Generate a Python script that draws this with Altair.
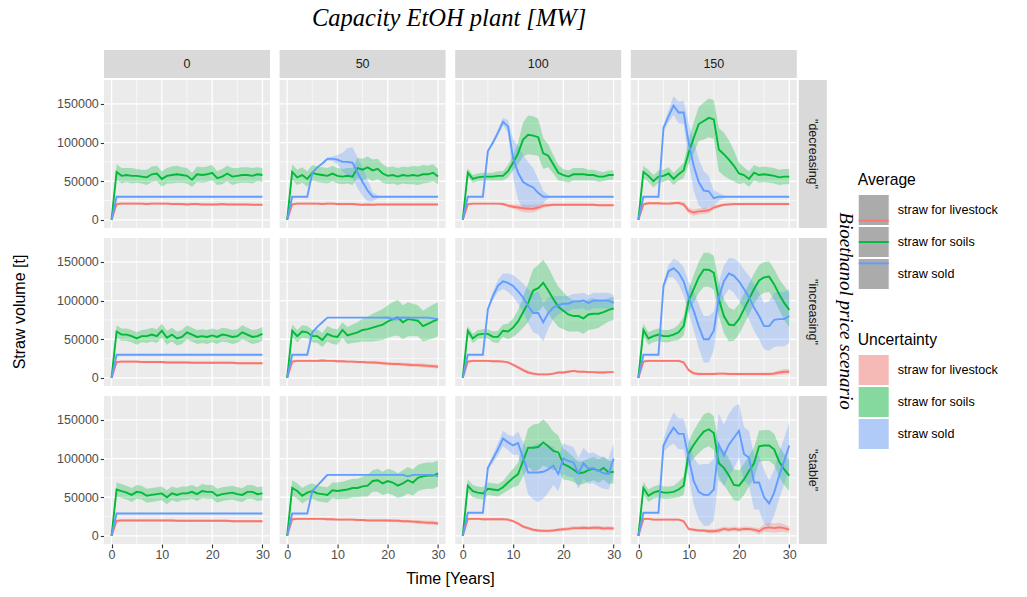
import altair as alt
import pandas as pd

# ---------------- data (values in thousand tonnes) ----------------
YEARS = list(range(31))
SCENARIOS = ['"decreasing"', '"increasing"', '"stable"']
CAPACITIES = ["0", "50", "100", "150"]
SERIES = ["straw for livestock", "straw for soils", "straw sold"]
COLORS = ["#F8766D", "#00BA38", "#619CFF"]
X_MAJOR = [0, 10, 20, 30]
X_MINOR = [5, 15, 25]
Y_MAJOR = [0, 50000, 100000, 150000]
Y_MINOR = [25000, 75000, 125000]

ZERO_SD = [0, 0, 0, 0, 0, 0, 0, 0, 0, 0, 0,
           0, 0, 0, 0, 0, 0, 0, 0, 0, 0,
           0, 0, 0, 0, 0, 0, 0, 0, 0, 0]
FLAT_SOLD = [0, 30, 30, 30, 30, 30, 30, 30, 30, 30, 30,
             30, 30, 30, 30, 30, 30, 30, 30, 30, 30,
             30, 30, 30, 30, 30, 30, 30, 30, 30, 30]
RED_SD = [0, 1.5, 1.5, 1.5, 1.5, 1.5, 1.5, 1.5, 1.5, 1.5, 1.5,
          1.5, 1.5, 1.5, 1.5, 1.5, 1.5, 1.5, 1.5, 1.5, 1.5,
          1.5, 1.5, 1.5, 1.5, 1.5, 1.5, 1.5, 1.5, 1.5, 1.5]

# "decreasing", 0 MW
DEC_0_LIVESTOCK = [0, 20.5, 21, 21, 21, 21, 21, 20.5, 21, 21, 21,
                   21, 20.5, 20.5, 20.5, 20, 20.5, 20.5, 20, 20, 20,
                   20, 20.5, 20, 20, 20, 20, 20, 19.5, 19.5, 19.5]
DEC_0_SOILS = [0, 62, 57, 58, 57, 57, 56, 55, 59, 60, 53,
               57, 58, 59, 58, 57, 52, 59, 58, 59, 61,
               54, 56, 60, 56, 57, 58, 58, 57, 59, 58]
DEC_0_SOILS_SD = [0, 10, 10, 9, 10, 9, 9, 10, 10, 10, 10,
                  10, 11, 11, 10, 10, 9, 10, 10, 10, 10,
                  9, 10, 10, 11, 10, 10, 10, 10, 9, 9]
# "decreasing", 50 MW
DEC_50_LIVESTOCK = [0, 20, 21, 21, 21, 21, 21, 20.5, 21, 21, 20.5,
                    20.5, 20.5, 20.5, 20, 19.5, 20, 19.5, 20, 20, 20,
                    20, 20, 20, 20, 20, 20, 20, 20, 20, 20]
DEC_50_SOILS = [0, 62, 55, 58, 53, 61, 59, 58, 57, 60, 57,
                56, 57, 56, 67, 65, 68, 64, 66, 60, 57,
                58, 56, 58, 57, 58, 57, 59, 59, 61, 56]
DEC_50_SOILS_SD = [0, 10, 10, 10, 10, 10, 10, 10, 10, 10, 10,
                   10, 10, 11, 13, 14, 14, 14, 13, 12, 11,
                   11, 11, 11, 11, 12, 12, 12, 11, 11, 10]
DEC_50_SOLD = [0, 30, 30, 30, 30, 61, 68, 73, 79, 79, 78,
               75, 75, 74, 61, 49, 38, 30, 30, 30, 30,
               30, 30, 30, 30, 30, 30, 30, 30, 30, 30]
DEC_50_SOLD_SD = [0, 0, 0, 0, 0, 1, 1, 1, 2, 3, 6,
                  12, 18, 20, 20, 18, 14, 6, 2, 0, 0,
                  0, 0, 0, 0, 0, 0, 0, 0, 0, 0]
# "decreasing", 100 MW
DEC_100_LIVESTOCK = [0, 20, 21, 21, 21, 21, 21, 21, 20.5, 18.5, 17,
                     16, 15, 14.5, 14.5, 16, 18.5, 19, 19.5, 19.5, 19.5,
                     19.5, 19.5, 19.5, 19.5, 19.5, 19.5, 19, 19, 19, 19]
DEC_100_LIVESTOCK_SD = [0, 1, 1, 1, 1, 1, 1, 1, 1.5, 2, 3,
                        4, 5, 5, 5, 4, 3, 2, 1.5, 1.5, 1.5,
                        1.5, 1.5, 1.5, 1.5, 1.5, 1.5, 1.5, 1.5, 1.5, 1.5]
DEC_100_SOILS = [0, 61, 53, 55, 56, 56, 56, 57, 57, 63, 74,
                 86, 104, 110, 109, 107, 86, 83, 72, 61, 58,
                 56, 59, 59, 59, 58, 58, 56, 56, 58, 58]
DEC_100_SOILS_SD = [0, 6, 5, 5, 5, 5, 5, 6, 6, 8, 10,
                    14, 22, 25, 25, 24, 20, 15, 12, 10, 8,
                    8, 8, 8, 8, 7, 7, 7, 6, 6, 6]
DEC_100_SOLD = [0, 30, 30, 30, 30, 89, 100, 113, 127, 121, 80,
                61, 49, 45, 42, 35, 30, 30, 30, 30, 30,
                30, 30, 30, 30, 30, 30, 30, 30, 30, 30]
DEC_100_SOLD_SD = [0, 0, 0, 0, 0, 2, 3, 4, 5, 8, 25,
                   35, 35, 30, 25, 18, 8, 2, 0, 0, 0,
                   0, 0, 0, 0, 0, 0, 0, 0, 0, 0]
# "decreasing", 150 MW
DEC_150_LIVESTOCK = [0, 20, 21.5, 21.5, 21.5, 21, 21, 21.5, 22, 20, 12,
                     9.5, 11, 11.5, 12.5, 16, 18, 19.5, 20, 20.5, 20.5,
                     20.5, 20.5, 20.5, 20.5, 20.5, 20.5, 20.5, 20.5, 20.5, 20.5]
DEC_150_LIVESTOCK_SD = [0, 1.5, 1.5, 1.5, 1.5, 1.5, 1.5, 1.5, 2, 3, 4,
                        4, 4, 4, 4, 3, 2, 1.5, 1.5, 1.5, 1.5,
                        1.5, 1.5, 1.5, 1.5, 1.5, 1.5, 1.5, 1.5, 1.5, 1.5]
DEC_150_SOILS = [0, 62, 57, 50, 56, 57, 60, 53, 59, 64, 87,
                 106, 124, 128, 132, 130, 91, 85, 78, 70, 60,
                 58, 53, 61, 58, 59, 58, 57, 55, 56, 56]
DEC_150_SOILS_SD = [0, 8, 8, 8, 8, 8, 8, 8, 8, 10, 15,
                    20, 22, 24, 25, 25, 28, 28, 25, 20, 14,
                    10, 10, 10, 10, 10, 10, 10, 10, 10, 10]
DEC_150_SOLD = [0, 30, 30, 30, 30, 119, 134, 148, 139, 139, 100,
                70, 49, 38, 37, 28, 30, 30, 30, 30, 30,
                30, 30, 30, 30, 30, 30, 30, 30, 30, 30]
DEC_150_SOLD_SD = [0, 0, 0, 0, 0, 4, 8, 12, 14, 15, 25,
                   32, 30, 25, 20, 10, 5, 2, 0, 0, 0,
                   0, 0, 0, 0, 0, 0, 0, 0, 0, 0]
# "increasing", 0 MW
INC_0_LIVESTOCK = [0, 20.5, 21, 21, 21, 21, 20.5, 20.5, 20.5, 20.5, 20.5,
                   20, 20, 20, 20, 20, 19.5, 19.5, 19.5, 19.5, 19.5,
                   19.5, 19.5, 19.5, 19.5, 19, 19, 19, 19, 19, 19]
INC_0_SOILS = [0, 60, 56, 56, 54, 51, 54, 54, 56, 54, 61,
               52, 56, 51, 53, 59, 56, 53, 54, 53, 55,
               53, 56, 55, 53, 54, 59, 56, 53, 54, 57]
INC_0_SOILS_SD = [0, 8, 8, 8, 8, 8, 8, 9, 9, 9, 9,
                  9, 9, 9, 9, 9, 9, 9, 9, 9, 9,
                  9, 9, 9, 9, 9, 9, 9, 9, 9, 9]
# "increasing", 50 MW
INC_50_LIVESTOCK = [0, 21, 22, 22, 22, 22, 22, 22.5, 22, 22, 21.5,
                    21.5, 21, 21, 20.5, 20.5, 20, 20, 19.5, 19, 18.5,
                    18, 18, 17.5, 17, 16.5, 16.5, 16, 15.5, 15, 14.5]
INC_50_LIVESTOCK_SD = [0, 1.5, 1.5, 1.5, 1.5, 1.5, 1.5, 1.5, 1.5, 1.5, 1.5,
                       1.5, 1.5, 1.5, 1.5, 1.5, 1.5, 2, 2, 2, 2,
                       2, 2, 2, 2.5, 2.5, 2.5, 2.5, 2.5, 2.5, 2.5]
INC_50_SOILS = [0, 61, 54, 60, 59, 54, 54, 49, 57, 54, 53,
                62, 55, 57, 59, 62, 63, 65, 67, 69, 73,
                76, 78, 72, 76, 75, 74, 67, 70, 73, 76]
INC_50_SOILS_SD = [0, 8, 8, 8, 8, 8, 9, 9, 10, 10, 10,
                   10, 11, 12, 13, 15, 16, 18, 19, 20, 21,
                   22, 23, 22, 22, 21, 20, 20, 21, 22, 22]
INC_50_SOLD = [0, 30, 30, 30, 30, 59, 66, 72, 78, 78, 78,
               78, 78, 78, 78, 78, 78, 78, 78, 78, 78,
               76, 77, 78, 78, 78, 78, 78, 78, 77, 76]
INC_50_SOLD_SD = [0, 0, 0, 0, 0, 0, 0, 0, 0, 0, 0,
                  0, 0, 0, 0, 0, 0, 0, 0, 1, 2,
                  3, 3, 2, 1, 0, 0, 0, 0, 0, 0]
# "increasing", 100 MW
INC_100_LIVESTOCK = [0, 21, 22, 22, 22, 22, 21.5, 21.5, 21, 20, 17,
                     13.5, 10, 7, 5.5, 4.5, 4.5, 4.5, 5.5, 7, 7,
                     8, 9, 8, 8, 7.5, 7.5, 7, 7, 7.5, 7.5]
INC_100_LIVESTOCK_SD = [0, 1.5, 1.5, 1.5, 1.5, 1.5, 1.5, 1.5, 1.5, 1.5, 2,
                        2, 2, 2, 2, 1.5, 1.5, 1.5, 1.5, 1.5, 1.5,
                        1.5, 1.5, 1.5, 1.5, 1.5, 1.5, 1.5, 1.5, 1.5, 1.5]
INC_100_SOILS = [0, 61, 51, 56, 57, 57, 53, 53, 61, 60, 65,
                 73, 85, 97, 113, 116, 123, 113, 102, 92, 87,
                 82, 80, 80, 77, 82, 83, 83, 85, 88, 90]
INC_100_SOILS_SD = [0, 6, 6, 6, 6, 6, 7, 8, 8, 10, 12,
                    15, 20, 25, 28, 30, 30, 30, 28, 26, 24,
                    22, 20, 20, 20, 20, 20, 18, 16, 15, 15]
INC_100_SOLD = [0, 30, 30, 30, 30, 89, 106, 119, 125, 123, 119,
                112, 104, 93, 84, 84, 72, 84, 91, 94, 96,
                96, 99, 99, 100, 97, 100, 100, 100, 100, 97]
INC_100_SOLD_SD = [0, 0, 0, 0, 0, 3, 5, 8, 10, 12, 14,
                   16, 18, 22, 25, 28, 25, 20, 15, 12, 10,
                   10, 10, 10, 10, 10, 10, 10, 10, 10, 10]
# "increasing", 150 MW
INC_150_LIVESTOCK = [0, 21, 22, 22, 22, 22, 22, 22, 22, 20, 10,
                     6, 5, 5, 5, 5, 5.5, 5.5, 5, 5, 5,
                     5, 5, 5, 5, 5, 5, 5.5, 7, 8, 8]
INC_150_LIVESTOCK_SD = [0, 1.5, 1.5, 1.5, 1.5, 1.5, 1.5, 1.5, 1.5, 1.5, 2,
                        2, 1.5, 1.5, 1.5, 1.5, 1.5, 1.5, 1.5, 1.5, 1.5,
                        1.5, 1.5, 1.5, 1.5, 2, 2, 2.5, 3, 3.5, 3.5]
INC_150_SOILS = [0, 62, 51, 54, 56, 54, 54, 56, 59, 67, 100,
                 115, 130, 140, 140, 136, 102, 80, 69, 68, 76,
                 89, 102, 115, 126, 130, 131, 121, 108, 97, 88]
INC_150_SOILS_SD = [0, 8, 8, 8, 8, 8, 8, 8, 10, 12, 15,
                    18, 20, 22, 22, 22, 22, 22, 22, 20, 20,
                    20, 20, 20, 20, 20, 20, 20, 20, 22, 22]
INC_150_SOLD = [0, 30, 30, 30, 30, 119, 138, 142, 136, 125, 104,
                87, 67, 50, 50, 61, 104, 125, 135, 132, 125,
                115, 104, 91, 80, 67, 67, 75, 76, 76, 80]
INC_150_SOLD_SD = [0, 0, 0, 0, 0, 4, 8, 12, 15, 18, 20,
                   25, 28, 30, 30, 25, 20, 20, 20, 22, 25,
                   25, 28, 30, 30, 30, 32, 35, 35, 35, 35]
# "stable", 0 MW
STA_0_LIVESTOCK = [0, 19.5, 20, 20, 20, 20, 20, 20, 20, 20, 20,
                   20, 20, 19.5, 19.5, 19.5, 19.5, 19.5, 19.5, 19.5, 19.5,
                   19.5, 19.5, 19.5, 19, 19, 19, 19, 19, 19, 19]
STA_0_SOILS = [0, 60, 58, 56, 53, 57, 56, 52, 53, 54, 55,
               50, 55, 53, 55, 55, 57, 54, 58, 57, 57,
               52, 54, 55, 56, 54, 53, 57, 57, 54, 55]
STA_0_SOILS_SD = [0, 9, 9, 9, 9, 9, 9, 9, 9, 9, 9,
                  9, 9, 9, 9, 9, 9, 9, 9, 9, 9,
                  9, 9, 9, 9, 9, 9, 9, 9, 9, 9]
STA_0_SOLD = [0, 29, 29, 29, 29, 29, 29, 29, 29, 29, 29,
              29, 29, 29, 29, 29, 29, 29, 29, 29, 29,
              29, 29, 29, 29, 29, 29, 29, 29, 29, 29]
# "stable", 50 MW
STA_50_LIVESTOCK = [0, 21.5, 22, 22, 22, 22, 22, 22, 21.5, 21.5, 21,
                    21, 21, 21, 20.5, 20.5, 20, 20, 20, 20, 20,
                    19.5, 19.5, 19, 19, 18.5, 18, 17.5, 17, 17, 16]
STA_50_LIVESTOCK_SD = [0, 1.5, 1.5, 1.5, 1.5, 1.5, 1.5, 1.5, 1.5, 1.5, 1.5,
                       1.5, 1.5, 1.5, 1.5, 1.5, 1.5, 1.5, 1.5, 1.5, 2,
                       2, 2, 2, 2, 2, 2.5, 2.5, 2.5, 2.5, 2.5]
STA_50_SOILS = [0, 62, 58, 52, 56, 58, 55, 54, 53, 59, 58,
                59, 60, 62, 62, 64, 65, 71, 72, 68, 71,
                69, 65, 68, 72, 69, 75, 77, 78, 78, 81]
STA_50_SOILS_SD = [0, 10, 10, 10, 10, 10, 10, 10, 10, 10, 11,
                   11, 12, 12, 12, 13, 14, 14, 15, 15, 16,
                   16, 16, 17, 17, 17, 17, 17, 17, 17, 17]
STA_50_SOLD = [0, 29, 29, 29, 29, 58, 65, 72, 79, 79, 79,
               79, 79, 79, 79, 79, 79, 79, 79, 79, 79,
               79, 79, 79, 77, 79, 79, 79, 79, 79, 77]
# "stable", 100 MW
STA_100_LIVESTOCK = [0, 22, 22, 22, 21.5, 21.5, 21.5, 21.5, 21.5, 21, 19,
                     16, 12, 10, 8, 7, 6.5, 6.5, 7, 8, 8.5,
                     9, 10, 10, 10.5, 10, 10.5, 10.5, 9.5, 10, 9.5]
STA_100_LIVESTOCK_SD = [0, 1.5, 1.5, 1.5, 1.5, 1.5, 1.5, 1.5, 1.5, 1.5, 1.5,
                        2, 2, 2, 2, 2, 2, 2, 2, 2, 2.5,
                        2.5, 2.5, 2.5, 2.5, 2.5, 2.5, 2.5, 2.5, 2.5, 2.5]
STA_100_SOILS = [0, 65, 58, 56, 55, 61, 60, 59, 63, 69, 75,
                 80, 97, 114, 114, 115, 121, 116, 110, 108, 93,
                 90, 86, 81, 82, 85, 87, 84, 88, 82, 83]
STA_100_SOILS_SD = [0, 8, 8, 8, 8, 8, 8, 8, 8, 10, 12,
                    15, 20, 25, 30, 30, 30, 28, 25, 22, 20,
                    18, 16, 15, 15, 15, 15, 15, 15, 15, 15]
STA_100_SOLD = [0, 30, 30, 30, 30, 88, 100, 112, 126, 121, 117,
                120, 101, 82, 82, 82, 83, 86, 91, 80, 100,
                97, 95, 81, 94, 87, 88, 84, 81, 80, 100]
STA_100_SOLD_SD = [0, 0, 0, 0, 0, 3, 5, 8, 10, 10, 12,
                   15, 20, 28, 35, 38, 35, 30, 25, 22, 20,
                   20, 20, 20, 20, 20, 20, 20, 20, 20, 20]
# "stable", 150 MW
STA_150_LIVESTOCK = [0, 22, 22, 21, 21, 21, 21, 21, 21, 19, 9,
                     8, 7, 7, 6, 6, 7, 9, 8, 9, 8,
                     9, 9, 8, 6, 10, 11, 10, 11, 10, 8]
STA_150_LIVESTOCK_SD = [0, 1.5, 1.5, 1.5, 1.5, 1.5, 1.5, 1.5, 1.5, 2, 2,
                        2, 2, 2, 3, 3, 3, 3, 3, 3, 3,
                        3, 3, 3, 4, 5, 6, 6, 6, 5, 4]
STA_150_SOILS = [0, 62, 52, 56, 58, 56, 56, 57, 60, 65, 107,
                 118, 127, 135, 138, 133, 94, 88, 78, 66, 65,
                 73, 84, 94, 116, 117, 117, 112, 96, 86, 78]
STA_150_SOILS_SD = [0, 8, 8, 8, 8, 8, 8, 8, 10, 12, 15,
                    18, 20, 22, 22, 22, 22, 22, 22, 20, 20,
                    20, 20, 20, 20, 20, 20, 20, 20, 20, 20]
STA_150_SOLD = [0, 30, 30, 30, 30, 117, 130, 140, 132, 132, 101,
                71, 57, 53, 53, 60, 118, 104, 118, 127, 136,
                106, 101, 69, 69, 50, 42, 56, 78, 97, 117]
STA_150_SOLD_SD = [0, 0, 0, 0, 0, 8, 15, 20, 20, 20, 25,
                   30, 35, 40, 40, 40, 40, 40, 40, 40, 35,
                   35, 35, 35, 35, 35, 30, 30, 30, 30, 30]

PANELS = {
    ('"decreasing"', "0"): ((DEC_0_LIVESTOCK, DEC_0_SOILS, FLAT_SOLD), (RED_SD, DEC_0_SOILS_SD, ZERO_SD)),
    ('"decreasing"', "50"): ((DEC_50_LIVESTOCK, DEC_50_SOILS, DEC_50_SOLD), (RED_SD, DEC_50_SOILS_SD, DEC_50_SOLD_SD)),
    ('"decreasing"', "100"): ((DEC_100_LIVESTOCK, DEC_100_SOILS, DEC_100_SOLD), (DEC_100_LIVESTOCK_SD, DEC_100_SOILS_SD, DEC_100_SOLD_SD)),
    ('"decreasing"', "150"): ((DEC_150_LIVESTOCK, DEC_150_SOILS, DEC_150_SOLD), (DEC_150_LIVESTOCK_SD, DEC_150_SOILS_SD, DEC_150_SOLD_SD)),
    ('"increasing"', "0"): ((INC_0_LIVESTOCK, INC_0_SOILS, FLAT_SOLD), (RED_SD, INC_0_SOILS_SD, ZERO_SD)),
    ('"increasing"', "50"): ((INC_50_LIVESTOCK, INC_50_SOILS, INC_50_SOLD), (INC_50_LIVESTOCK_SD, INC_50_SOILS_SD, INC_50_SOLD_SD)),
    ('"increasing"', "100"): ((INC_100_LIVESTOCK, INC_100_SOILS, INC_100_SOLD), (INC_100_LIVESTOCK_SD, INC_100_SOILS_SD, INC_100_SOLD_SD)),
    ('"increasing"', "150"): ((INC_150_LIVESTOCK, INC_150_SOILS, INC_150_SOLD), (INC_150_LIVESTOCK_SD, INC_150_SOILS_SD, INC_150_SOLD_SD)),
    ('"stable"', "0"): ((STA_0_LIVESTOCK, STA_0_SOILS, STA_0_SOLD), (RED_SD, STA_0_SOILS_SD, ZERO_SD)),
    ('"stable"', "50"): ((STA_50_LIVESTOCK, STA_50_SOILS, STA_50_SOLD), (STA_50_LIVESTOCK_SD, STA_50_SOILS_SD, ZERO_SD)),
    ('"stable"', "100"): ((STA_100_LIVESTOCK, STA_100_SOILS, STA_100_SOLD), (STA_100_LIVESTOCK_SD, STA_100_SOILS_SD, STA_100_SOLD_SD)),
    ('"stable"', "150"): ((STA_150_LIVESTOCK, STA_150_SOILS, STA_150_SOLD), (STA_150_LIVESTOCK_SD, STA_150_SOILS_SD, STA_150_SOLD_SD)),
}

# ---------------- layout constants ----------------
SANS = "Liberation Sans"
SERIF = "Liberation Serif"
W, H = 166, 148
HSP, VSP = 7.6, 8
STRIP = 28
GAP = 2
PANEL_BG = "#EBEBEB"
STRIP_BG = "#D9D9D9"

XS = alt.Scale(domain=[-1.5, 31.5], nice=False, zero=False)
YS = alt.Scale(domain=[-10500, 181000], nice=False, zero=False)
CSCALE = alt.Scale(domain=SERIES, range=COLORS)


def frame_for(key):
    avgs, sds = PANELS[key]
    rows = []
    for name, a, s in zip(SERIES, avgs, sds):
        for t, v, e in zip(YEARS, a, s):
            rows.append({"t": t, "series": name, "val": v * 1000,
                         "lo": (v - e) * 1000, "hi": (v + e) * 1000})
    return pd.DataFrame(rows)


AX_BASE = dict(grid=False, domain=False, ticks=True, tickSize=3.7, tickColor="#333333",
               tickWidth=1.1, labelColor="#4D4D4D", labelFont=SANS, labelFontSize=12.5,
               title=None)


def panel(i, j):
    scn, cap = SCENARIOS[i], CAPACITIES[j]
    df = frame_for((scn, cap))
    xax = alt.Axis(**dict(AX_BASE, values=X_MAJOR, format="d", labelFlush=False, labelPadding=0.5)) \
        if i == len(SCENARIOS) - 1 else None
    yax = alt.Axis(**dict(AX_BASE, values=Y_MAJOR, format="d", labelFlush=False, labelPadding=2)) \
        if j == 0 else None

    X = alt.X("t:Q", scale=XS, axis=xax)
    Yv = alt.Y("val:Q", scale=YS, axis=yax)

    one = pd.DataFrame({"k": [0]})
    layers = [
        alt.Chart(one).mark_rect(color=PANEL_BG).encode(
            x=alt.value(0), x2=alt.value(W), y=alt.value(0), y2=alt.value(H)),
        alt.Chart(pd.DataFrame({"t": X_MINOR})).mark_rule(color="white", strokeWidth=0.6).encode(x=X),
        alt.Chart(pd.DataFrame({"val": Y_MINOR})).mark_rule(color="white", strokeWidth=0.6).encode(y=Yv),
        alt.Chart(pd.DataFrame({"t": X_MAJOR})).mark_rule(color="white", strokeWidth=1.3).encode(x=X),
        alt.Chart(pd.DataFrame({"val": Y_MAJOR})).mark_rule(color="white", strokeWidth=1.3).encode(y=Yv),
        alt.Chart(df).mark_area(opacity=0.3, strokeWidth=0).encode(
            x=X,
            y=alt.Y("lo:Q", scale=YS, axis=yax, stack=False),
            y2=alt.Y2("hi:Q"),
            fill=alt.Fill("series:N", scale=CSCALE, legend=None),
        ),
        alt.Chart(df).mark_line(strokeWidth=1.9).encode(
            x=X, y=Yv, stroke=alt.Stroke("series:N", scale=CSCALE, legend=None)),
    ]
    if i == 0:  # column strip above the panel
        d = pd.DataFrame({"lab": [cap]})
        layers.append(alt.Chart(d).mark_rect(color=STRIP_BG).encode(
            x=alt.value(0), x2=alt.value(W), y=alt.value(-(STRIP + GAP)), y2=alt.value(-GAP)))
        layers.append(alt.Chart(d).mark_text(font=SANS, fontSize=12.5, color="#1A1A1A",
                                             baseline="middle", align="center").encode(
            x=alt.value(W / 2), y=alt.value(-(GAP + STRIP / 2)), text="lab:N"))
    if j == len(CAPACITIES) - 1:  # row strip right of the panel
        d = pd.DataFrame({"lab": [scn]})
        layers.append(alt.Chart(d).mark_rect(color=STRIP_BG).encode(
            x=alt.value(W + GAP), x2=alt.value(W + GAP + STRIP), y=alt.value(0), y2=alt.value(H)))
        layers.append(alt.Chart(d).mark_text(font=SANS, fontSize=12.5, color="#1A1A1A", angle=90,
                                             baseline="middle", align="center").encode(
            x=alt.value(W + GAP + STRIP / 2), y=alt.value(H / 2), text="lab:N"))
    return alt.layer(*layers).properties(width=W, height=H)


rows = [alt.hconcat(*[panel(i, j) for j in range(len(CAPACITIES))], spacing=HSP)
        for i in range(len(SCENARIOS))]
body = alt.vconcat(
    *rows, spacing=VSP,
    title=alt.Title("Time [Years]", orient="bottom", anchor="middle", frame="group",
                    font=SANS, fontSize=16, fontWeight="normal", color="black",
                    offset=10, dx=346.5),
)

PANELS_H = 3 * H + 2 * (VSP + 2)

# y-axis title column (origin aligned with the top panel row)
ytitle = alt.Chart(pd.DataFrame({"t": ["Straw volume [t]"]})).mark_text(
    font=SANS, fontSize=16, angle=270, align="center", baseline="middle", color="black").encode(
    x=alt.value(12), y=alt.value(232), text="t:N"
).properties(width=47.2, height=PANELS_H)

# ---------------- legend panel ----------------
LEG_W = 196
leg_df = pd.DataFrame({"series": SERIES})
AVG_Y = alt.Y("series:N", scale=alt.Scale(domain=SERIES, range=[130, 194], padding=0), axis=None)
UNC_Y = alt.Y("series:N", scale=alt.Scale(domain=SERIES, range=[290, 354], padding=0), axis=None)
KEY_X = 46.7
LAB_X = 70.7

side_title = alt.Chart(pd.DataFrame({"t": ["Bioethanol price scenario"]})).mark_text(
    font=SERIF, fontStyle="italic", fontSize=19, angle=90, align="center", baseline="middle",
    color="black").encode(x=alt.value(18.7), y=alt.value(231), text="t:N")
avg_title = alt.Chart(pd.DataFrame({"t": ["Average"]})).mark_text(
    font=SANS, fontSize=15.7, align="left", baseline="middle", color="black").encode(
    x=alt.value(30.7), y=alt.value(100), text="t:N")
unc_title = alt.Chart(pd.DataFrame({"t": ["Uncertainty"]})).mark_text(
    font=SANS, fontSize=15.7, align="left", baseline="middle", color="black").encode(
    x=alt.value(30.7), y=alt.value(260), text="t:N")

avg_key = alt.Chart(leg_df).mark_square(size=31 * 31, color="#ABABAB", opacity=1, stroke="white",
                                        strokeWidth=1).encode(x=alt.value(KEY_X), y=AVG_Y)
avg_line = alt.Chart(leg_df).mark_rule(strokeWidth=1.9).encode(
    x=alt.value(KEY_X - 15), x2=alt.value(KEY_X + 15), y=AVG_Y,
    stroke=alt.Stroke("series:N", scale=CSCALE, legend=None))
avg_lab = alt.Chart(leg_df).mark_text(font=SANS, fontSize=12.6, align="left", baseline="middle",
                                      color="black").encode(
    x=alt.value(LAB_X), y=AVG_Y, text="series:N")

unc_key_bg = alt.Chart(leg_df).mark_square(size=31 * 31, color="#F2F2F2", opacity=1, stroke="white",
                                           strokeWidth=1).encode(x=alt.value(KEY_X), y=UNC_Y)
unc_key = alt.Chart(leg_df).mark_square(size=30 * 30, opacity=0.45, strokeWidth=0).encode(
    x=alt.value(KEY_X), y=UNC_Y, fill=alt.Fill("series:N", scale=CSCALE, legend=None))
unc_lab = alt.Chart(leg_df).mark_text(font=SANS, fontSize=12.6, align="left", baseline="middle",
                                      color="black").encode(
    x=alt.value(LAB_X), y=UNC_Y, text="series:N")

legend = alt.layer(side_title, avg_title, unc_title, avg_key, avg_line, avg_lab,
                   unc_key_bg, unc_key, unc_lab).resolve_scale(y="independent").properties(
    width=LEG_W, height=PANELS_H)

chart = alt.hconcat(
    ytitle, body, legend, spacing=0,
    title=alt.Title("Capacity EtOH plant [MW]", font=SERIF, fontStyle="italic", fontSize=24.5,
                    fontWeight="normal", color="black", anchor="start", frame="group",
                    offset=19, dx=304),
).properties(
    padding={"left": 8, "top": 5, "right": 0, "bottom": 0},
    background="white",
).configure_view(strokeWidth=0)

chart.save("out.html", embed_options={"renderer": "svg", "actions": False})
